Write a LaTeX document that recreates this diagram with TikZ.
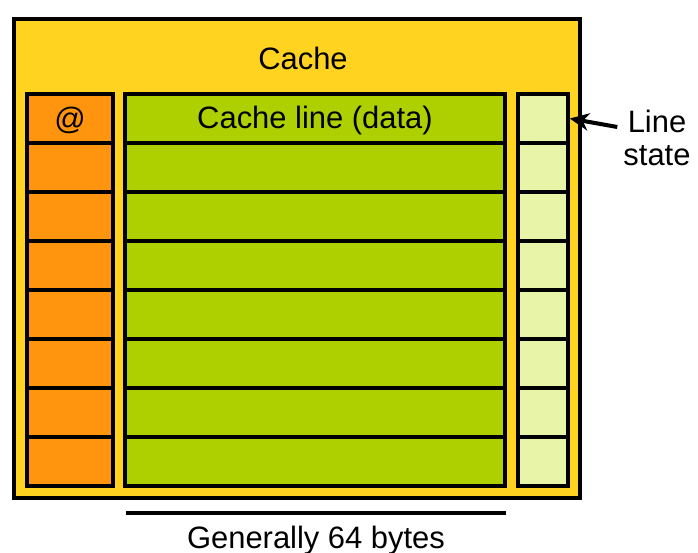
\documentclass[tikz,border=0pt]{standalone}
\usepackage{fontspec}
\setmainfont{Liberation Sans}
\usetikzlibrary{positioning,arrows.meta}

\definecolor{cacheyellow}{HTML}{FFD320}
\definecolor{addrorange}{HTML}{FF950E}
\definecolor{datagreen}{HTML}{AECF00}
\definecolor{stategreen}{HTML}{E8F5A8}

\begin{document}
\begin{tikzpicture}[
  font=\fontsize{17.6}{19}\selectfont,
  cachebox/.style={rectangle, draw=black, line width=2.8pt, fill=cacheyellow, minimum width=11.32cm, minimum height=9.58cm},
  cell/.style={rectangle, draw=black, line width=2pt, minimum height=0.98cm, inner sep=0pt},
  addrcell/.style={cell, fill=addrorange, minimum width=1.72cm},
  datacell/.style={cell, fill=datagreen, minimum width=7.6cm},
  statecell/.style={cell, fill=stategreen, minimum width=1.0cm},
  arrow/.style = {line width=2.3pt,-{Stealth[length=11pt,width=10pt]}}
]
\useasboundingbox (0,0) rectangle (13.96,-11.06);

%Nodes
\node[cachebox] (cache) at (5.94,-5.17) {};
\node (cachelbl) at (6.06,-1.16) {Cache};

\foreach \i in {0,...,7}{
  \node[addrcell]  (addr\i) at (1.4,-2.37-0.98*\i) {};
  \node[datacell]  (data\i) at (6.3,-2.37-0.98*\i) {};
  \node[statecell] (lst\i)  at (10.86,-2.37-0.98*\i) {};
}

%Labels
\node at ([yshift=-0.04cm]addr0) {@};
\node at ([yshift=-0.04cm]data0) {Cache line (data)};
\node[align=center] (state) at (13.14,-2.76) {Line\\state};
\node (bytes) at (6.32,-10.82) {Generally 64 bytes};

%Arrows
\draw[arrow] ([yshift=0.22cm]state.west) -- (lst0.east);

% Width bar
\coordinate (bw) at (2.52,-10.26);
\coordinate (be) at (10.12,-10.26);
\draw[line width=2.2pt] (bw) -- (be);

\end{tikzpicture}
\end{document}
